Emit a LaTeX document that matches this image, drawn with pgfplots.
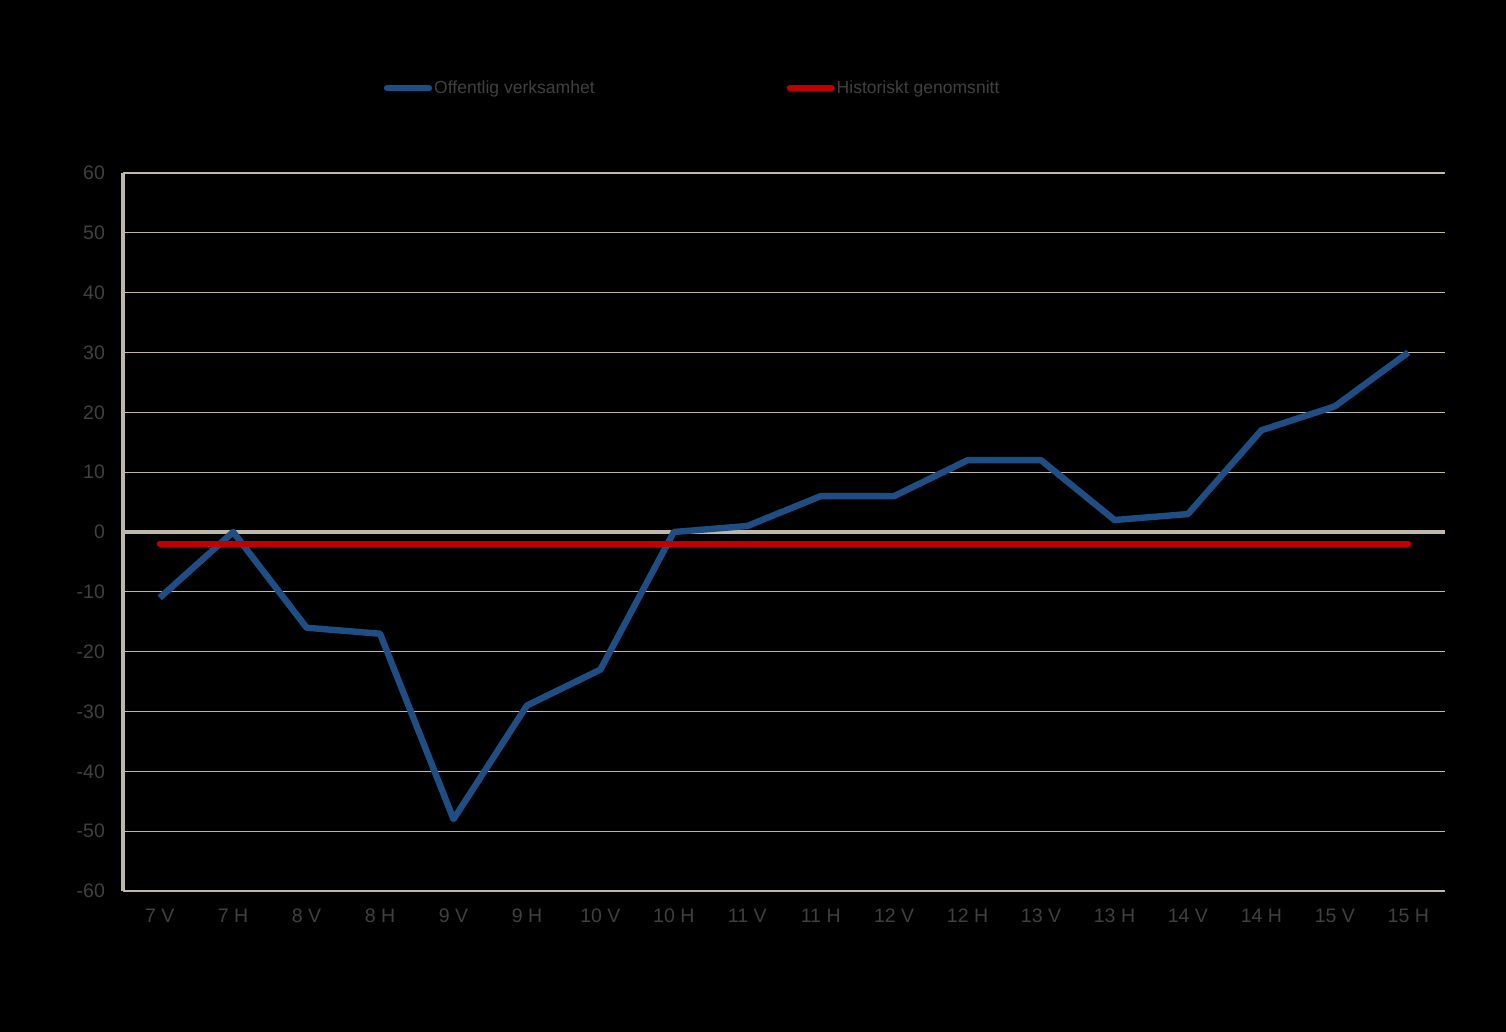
\documentclass[border=0pt]{standalone}
\usepackage{fontspec}
\setmainfont{Liberation Sans}
\usepackage{pgfplots}
\pgfplotsset{compat=1.18}
\definecolor{bluel}{HTML}{1F4E85}
\definecolor{redl}{HTML}{C00000}
\definecolor{gridc}{HTML}{BFB8A8}
\definecolor{txt}{HTML}{404040}
\begin{document}
\begin{tikzpicture}
% black page: 1506x1032 px at 0.5bp per px, axis box at (123,891) px
\fill[black] (-61.5bp,-70.5bp) rectangle (691.5bp,445.5bp);
\begin{axis}[
    at={(0,0)}, anchor=south west,
    scale only axis, width=661bp, height=359bp,
    xmin=-0.5, xmax=17.5, ymin=-60, ymax=60,
    xtick={0,...,17},
    xticklabels={7 V,7 H,8 V,8 H,9 V,9 H,10 V,10 H,11 V,11 H,12 V,12 H,13 V,13 H,14 V,14 H,15 V,15 H},
    ytick={-60,-50,...,60},
    major tick length=0pt,
    ymajorgrids,
    grid style={gridc, line width=0.6bp},
    extra y ticks={0}, extra y tick labels={},
    extra y tick style={grid style={gridc, line width=2bp}},
    axis x line*=bottom, axis y line*=left,
    x axis line style={gridc, line width=0.8bp},
    y axis line style={gridc, line width=2bp},
    /pgf/number format/assume math mode=true,
    tick label style={txt, font=\fontsize{9.8}{11}\selectfont},
    yticklabel style={xshift=-5.5bp},
    xticklabel style={yshift=-5.5bp},
    legend columns=2,
    legend cell align=left,
    legend image code/.code={\draw[#1, line cap=round] (0bp,0bp) -- (21bp,0bp);},
    legend style={at={(0.197,1.118)}, anchor=west, draw=none, fill=none,
        inner sep=0pt, text=txt, font=\fontsize{8.8}{10}\selectfont,
        nodes={inner sep=1pt},
        /tikz/every even column/.append style={column sep=95bp}},
]
\addplot[bluel, line width=3.2bp, line join=round] coordinates {
    (0,-11) (1,0) (2,-16) (3,-17) (4,-48) (5,-29) (6,-23) (7,0) (8,1)
    (9,6) (10,6) (11,12) (12,12) (13,2) (14,3) (15,17) (16,21) (17,30)};
\addlegendentry{Offentlig verksamhet}
\addplot[redl, line width=3bp, line cap=round] coordinates {
    (0,-2) (1,-2) (2,-2) (3,-2) (4,-2) (5,-2) (6,-2) (7,-2) (8,-2)
    (9,-2) (10,-2) (11,-2) (12,-2) (13,-2) (14,-2) (15,-2) (16,-2) (17,-2)};
\addlegendentry{Historiskt genomsnitt}
\end{axis}
\end{tikzpicture}
\end{document}
